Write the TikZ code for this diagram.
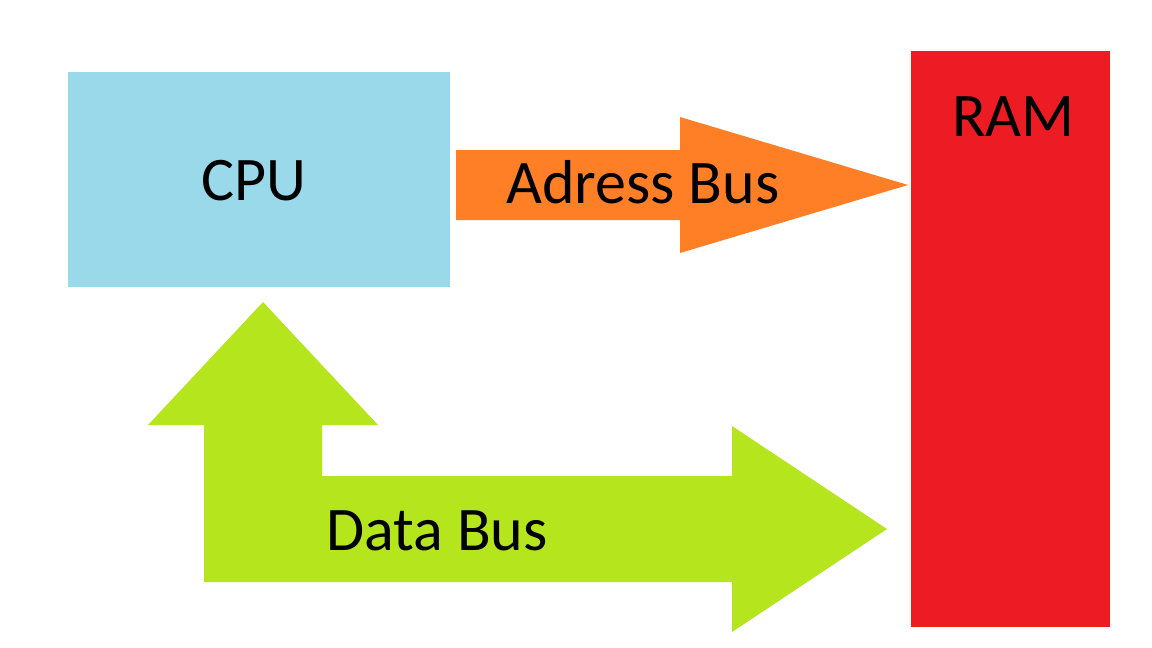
\documentclass[tikz,border=0pt]{standalone}
\usepackage{fontspec}
\setmainfont{Carlito}
\definecolor{cpublue}{HTML}{99D9EA}
\definecolor{busorange}{HTML}{FF7F27}
\definecolor{ramred}{HTML}{ED1C24}
\definecolor{busgreen}{HTML}{B5E61D}
\tikzset{
  lbl/.style={inner sep=0pt, anchor=base west, font=\fontsize{62}{62}\selectfont, text=black},
  block/.style={draw=none, inner sep=0pt, minimum width=0pt}
}
\begin{document}
\begin{tikzpicture}[x=1pt,y=-1pt]
\useasboundingbox (0,0) rectangle (1152,648);
\fill[white] (0,0) rectangle (1152,648);
% CPU
\fill[cpublue] (68,72) rectangle (450,287);
\coordinate (cpu) at (259,180);
% RAM
\fill[ramred] (911,51) rectangle (1110,627);
% Address bus arrow
\fill[busorange] (456,150) -- (680,150) -- (680,117) -- (908,185) -- (680,253) -- (680,220) -- (456,220) -- cycle;
% Data bus arrow
\fill[busgreen] (263,302) -- (378,425) -- (322,425) -- (322,476) -- (732,476) -- (732,426) -- (887,529) -- (732,632) -- (732,582) -- (204,582) -- (204,425) -- (148,425) -- cycle;
% Labels
\node[lbl] (cpulbl) at (201,200) {CPU};
\node[lbl] (adrlbl) at (506,203) {Adress Bus};
\node[lbl] (ramlbl) at (952,136) {RAM};
\node[lbl] (datlbl) at (326,550) {Data Bus};
\end{tikzpicture}
\end{document}
